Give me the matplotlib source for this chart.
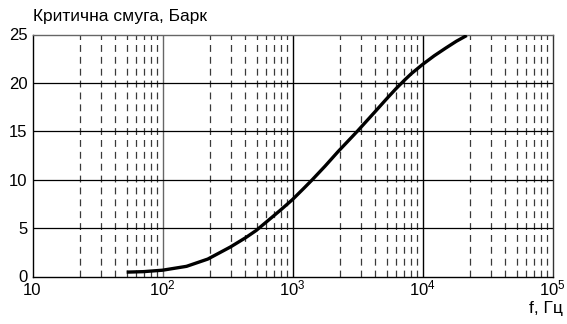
import matplotlib.pyplot as plt

plt.rcParams['font.family'] = ['Liberation Sans', 'DejaVu Sans']
plt.rcParams['mathtext.fontset'] = 'custom'
plt.rcParams['mathtext.rm'] = 'Liberation Sans'

# частота, Гц та критична смуга, Барк
freq = [53, 71, 100, 153, 223, 333, 435, 525, 625, 815, 1000, 1230, 1420,
        1780, 2240, 3150, 4300, 5250, 6250, 7290, 8200, 10000, 12300,
        15100, 18200, 21900]
bark = [0.45, 0.5, 0.65, 1.05, 1.8, 3.05, 4.0, 4.75, 5.6, 6.9, 7.95, 9.15,
        10.0, 11.4, 12.9, 15.0, 17.0, 18.3, 19.4, 20.3, 20.95, 21.9, 22.8,
        23.6, 24.3, 24.9]

xticks = [10, 100, 1000, 10000, 100000]
xlabels = ['10', r'$\mathregular{10^2}$', r'$\mathregular{10^3}$',
           r'$\mathregular{10^4}$', r'$\mathregular{10^5}$']
yticks = [0, 5, 10, 15, 20, 25]

fig = plt.figure(figsize=(5.67, 3.24), dpi=100)
ax = fig.add_axes([32.5 / 567, 47.5 / 324, 520 / 567, 242 / 324])

ax.set_xscale('log')
ax.set_xlim(10, 100000)
ax.set_ylim(0, 25)

# проміжні штрихові лінії в кожній декаді (трохи стиснуті до правої межі)
for dec in [10, 100, 1000, 10000]:
    for k in range(2, 10):
        xk = dec * 10 / (10 / k) ** 0.91
        ax.axvline(xk, color='#3a3a3a', lw=0.9, ls=(0, (5.5, 4)), zorder=1)
for dec, c in [(100, '#666666'), (1000, 'black'), (10000, 'black')]:
    ax.axvline(dec, color=c, lw=1.0, zorder=1)
for v in yticks[1:-1]:
    ax.axhline(v, color='black', lw=0.9, zorder=1)

ax.plot(freq, bark, color='black', lw=2.4, solid_joinstyle='round',
        solid_capstyle='butt', zorder=3)

# підписи осі x вирівняні по базовій лінії, щоб степені не зсували їх
ax.set_xticks(xticks)
ax.set_xticklabels(xlabels, va='baseline')
ax.xaxis.set_minor_locator(plt.NullLocator())
ax.set_yticks(yticks)
ax.tick_params(length=0, labelsize=12)
ax.tick_params(axis='x', pad=13.3)
ax.tick_params(axis='y', pad=3.5)

for s in ax.spines.values():
    s.set_linewidth(1.0)
ax.spines['top'].set_color('#666666')
ax.spines['right'].set_color('#333333')

fig.text(33 / 567, 1 - 17 / 324, 'Критична смуга, Барк', fontsize=12.5, va='center')
fig.text(563 / 567, 1 - 308 / 324, 'f, Гц', fontsize=12.5, va='center', ha='right')

fig.savefig('out.png', dpi=100)
